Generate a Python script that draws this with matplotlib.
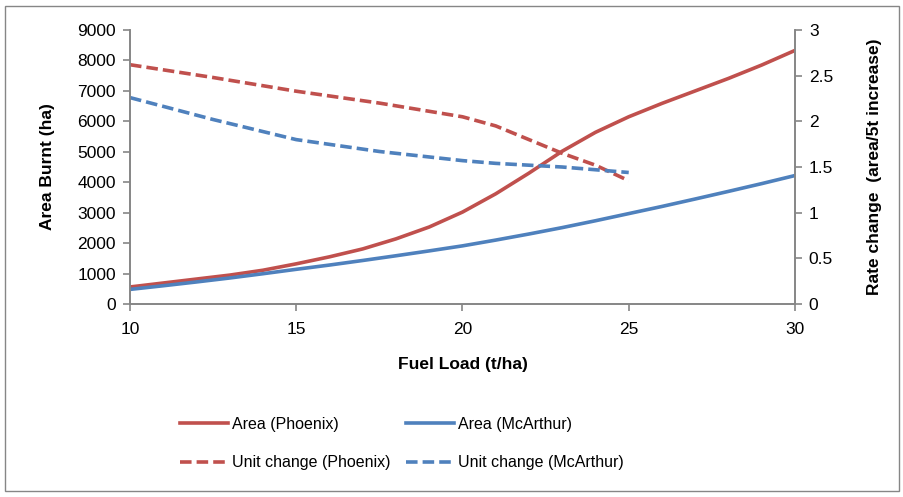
import numpy as np
import matplotlib.pyplot as plt
from matplotlib.patches import Rectangle

plt.rcParams['font.family'] = ['Liberation Sans', 'DejaVu Sans']

# Fuel load (t/ha)
fuel = [10, 11, 12, 13, 14, 15, 16, 17, 18, 19, 20, 21, 22, 23, 24, 25, 26, 27, 28, 29, 30]
# Area burnt (ha)
area_phoenix = [560, 690, 820, 950, 1110, 1320, 1550, 1810, 2140, 2530, 3020, 3620, 4300, 5020, 5640,
                6150, 6590, 7000, 7410, 7850, 8330]
area_mcarthur = [480, 600, 725, 855, 995, 1140, 1280, 1430, 1585, 1745, 1910, 2100, 2300, 2510, 2735,
                 2970, 3205, 3450, 3700, 3955, 4220]

# Rate change (area / 5t increase)
fuel_rate = [10, 12.5, 15, 17.5, 20, 21, 22, 23, 24, 25]
rate_phoenix = [2.62, 2.48, 2.33, 2.20, 2.05, 1.95, 1.80, 1.65, 1.52, 1.35]
rate_mcarthur = [2.26, 2.02, 1.80, 1.67, 1.57, 1.54, 1.52, 1.50, 1.47, 1.44]

red = '#C0504D'
blue = '#4F81BD'
grey = '#868686'

fig = plt.figure(figsize=(9.04, 4.97), dpi=100)
ax = fig.add_axes([0.1438, 0.3883, 0.7356, 0.5513])
ax2 = ax.twinx()

l1, = ax.plot(fuel, area_phoenix, color=red, lw=2.6, label='Area (Phoenix)')
l3, = ax.plot(fuel, area_mcarthur, color=blue, lw=2.6, label='Area (McArthur)')
l2, = ax2.plot(fuel_rate, rate_phoenix, color=red, lw=2.6, dashes=(3.2, 1.4), label='Unit change (Phoenix)')
l4, = ax2.plot(fuel_rate, rate_mcarthur, color=blue, lw=2.6, dashes=(3.2, 1.4), label='Unit change (McArthur)')

ax.set_xlim(10, 30)
ax.set_ylim(0, 9000)
ax2.set_ylim(0, 3)
ax.set_xticks([10, 15, 20, 25, 30])
ax.set_yticks(range(0, 9001, 1000))
ax2.set_yticks([0, 0.5, 1, 1.5, 2, 2.5, 3])
ax2.set_yticklabels(['0', '0.5', '1', '1.5', '2', '2.5', '3'])

for a in (ax, ax2):
    a.spines['top'].set_visible(False)
    for s in ('left', 'right', 'bottom'):
        a.spines[s].set_color(grey)
        a.spines[s].set_linewidth(1.2)
    a.tick_params(colors=grey, labelcolor='black', labelsize=12.5, length=5, width=1.2)
ax.tick_params(axis='y', pad=5)
ax.tick_params(axis='x', pad=8)
ax2.tick_params(axis='y', pad=5)

ax.set_xlabel('Fuel Load (t/ha)', fontsize=12.5, fontweight='bold', labelpad=14)
ax.set_ylabel('Area Burnt (ha)', fontsize=12.5, fontweight='bold', labelpad=16)
ax2.set_ylabel('Rate change  (area/5t increase)', fontsize=12.5, fontweight='bold', labelpad=24)

fig.legend([l1, l2, l3, l4], [l1.get_label(), l2.get_label(), l3.get_label(), l4.get_label()],
           ncol=2, frameon=False, fontsize=11.5, loc='upper left',
           bbox_to_anchor=(0.183, 0.19), handlelength=3.0, handletextpad=0.25,
           columnspacing=1.0, labelspacing=1.45)

fig.patches.append(Rectangle((0.006, 0.012), 0.988, 0.976, transform=fig.transFigure,
                             fill=False, edgecolor=grey, lw=1.0))

fig.savefig('out.png', dpi=100)
